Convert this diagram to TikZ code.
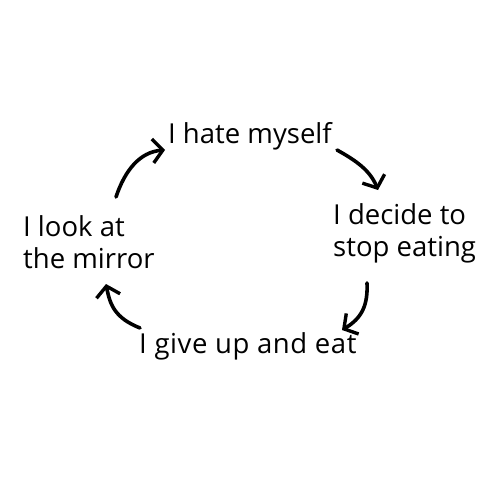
\documentclass[tikz,border=0pt]{standalone}
\usepackage{fontspec}
\setmainfont{Open Sans}
\usetikzlibrary{arrows.meta}
\begin{document}
\begin{tikzpicture}[x=1pt,y=-1pt,
  lbl/.style={inner sep=0pt,anchor=base west,align=left,font=\fontsize{27.5}{32}\selectfont},
  cyc/.style={line width=3.6pt,line cap=round,line join=round,
    -{Straight Barb[length=10pt,width=24pt,line width=3.4pt]}}]
\useasboundingbox (0,0) rectangle (500,500);
\fill[white] (0,0) rectangle (500,500);
\node[lbl] (hate) at (168,143) {I hate myself};
\node[lbl] (decide) at (333,256) {I decide to\\stop eating};
\node[lbl] (giveup) at (139,353) {\addfontfeature{LetterSpace=2}I give up and eat};
\node[lbl] (mirror) at (23,268) {I look at\\the mirror};
\coordinate (a1s) at (116,197);
\coordinate (a1e) at (165,150);
\coordinate (a2s) at (337,150);
\coordinate (a2e) at (378,190);
\coordinate (a3s) at (367,283);
\coordinate (a3e) at (342,330);
\coordinate (a4s) at (140,328);
\coordinate (a4e) at (106,284);
\draw[cyc] (a1s) .. controls (125,170) and (140,152) .. (a1e);
\draw[cyc] (a2s) .. controls (355,160) and (370,170) .. (a2e);
\draw[cyc] (a3s) .. controls (368,305) and (362,318) .. (a3e);
\draw[cyc] (a4s) .. controls (115,318) and (110,305) .. (a4e);
\end{tikzpicture}
\end{document}
